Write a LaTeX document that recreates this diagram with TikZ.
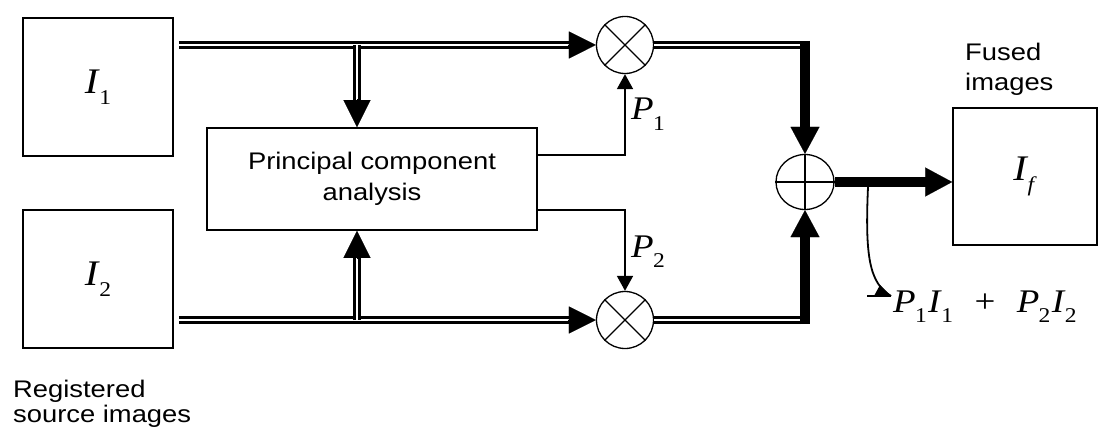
\documentclass[tikz,border=0pt]{standalone}
\usepackage{fontspec}
\setmainfont[FakeStretch=1.12]{Liberation Serif}
\newfontfamily\labelfont[FakeStretch=1.14]{Liberation Sans}
\usetikzlibrary{arrows.meta,shapes.geometric}

% italic symbol with a lowered subscript
\newcommand{\symsub}[2]{\textit{#1}\kern-0.02em\raisebox{-0.32em}{\fontsize{21}{21}\selectfont #2}}

\tikzset{
  blockbox/.style={draw, line width=1.6pt, inner sep=0pt},
  opnode/.style={draw, line width=1.3pt, inner sep=0pt},
  bus/.style={double, double distance=2pt, line width=3pt},
  heavy/.style={line width=9.5pt},
  signal/.style={line width=1.8pt},
  bushead/.style={line width=0.1pt, -{Triangle[length=27pt,width=27pt]}},
  heavyhead/.style={line width=0.1pt, -{Triangle[length=27pt,width=29pt]}},
  sighead/.style={line width=1.8pt, -{Triangle[length=15pt,width=16pt]}},
  symtext/.style={font=\fontsize{36}{38}\selectfont},
  smallsym/.style={font=\fontsize{33}{35}\selectfont, inner sep=0pt},
  plaintext/.style={font=\labelfont\fontsize{24}{25}\selectfont, inner sep=0pt, align=left}
}

\begin{document}
\begin{tikzpicture}[x=1pt, y=-1pt]
\useasboundingbox (0,0) rectangle (1099,430);

% source, analysis and result blocks
\node[blockbox, minimum width=150pt, minimum height=138pt, symtext] (I1) at (98,87) {\symsub{I}{1}};
\node[blockbox, minimum width=150pt, minimum height=138pt, symtext] (I2) at (98,279) {\symsub{I}{2}};
\node[blockbox, minimum width=330pt, minimum height=102pt, align=center,
      font=\labelfont\fontsize{24}{31}\selectfont] (pca) at (372,179) {Principal component\\analysis};
\node[blockbox, minimum width=144pt, minimum height=137pt, symtext] (If) at (1025,176.5) {\symsub{I}{\textit{f}}};

% multipliers and summer
\node[opnode, circle, minimum size=57pt] (m1) at (625,45) {};
\draw[line width=1.1pt] (m1.north west) -- (m1.south east) (m1.north east) -- (m1.south west);
\node[opnode, circle, minimum size=57pt] (m2) at (625,320) {};
\draw[line width=1.1pt] (m2.north west) -- (m2.south east) (m2.north east) -- (m2.south west);
\node[opnode, ellipse, minimum width=58pt, minimum height=55pt] (sum) at (805,182) {};
\draw[line width=1.1pt] (sum.north) -- (sum.south) (sum.west) -- (sum.east);

% helper points
\coordinate (a1) at ([xshift=5pt]I1.east |- m1.center);
\coordinate (a2) at ([xshift=5pt]I2.east |- m2.center);
\coordinate (j1) at (357,45);
\coordinate (j2) at (357,320);
\coordinate (b1) at (j1 |- pca.north);
\coordinate (b2) at (j2 |- pca.south);
\coordinate (c1) at (sum.north |- m1.center);
\coordinate (c2) at (sum.south |- m2.center);
\coordinate (p1) at ([yshift=24pt]pca.east);
\coordinate (p2) at ([yshift=-31pt]pca.east);
\coordinate (fin) at (sum.east -| If.west);

% image buses into the multipliers
\draw[bus] (a1) -- ([xshift=-26pt]m1.west);
\draw[bushead] ([xshift=-28pt]m1.west) -- (m1.west);
\draw[bus] (a2) -- ([xshift=-26pt]m2.west);
\draw[bushead] ([xshift=-28pt]m2.west) -- (m2.west);

% branches into the analysis block
\draw[bus] (j1) -- ([yshift=26pt]b1);
\draw[bushead] ([yshift=28pt]b1) -- (b1);
\draw[bus] (j2) -- ([yshift=-26pt]b2);
\draw[bushead] ([yshift=-28pt]b2) -- (b2);

% weights
\draw[signal] (p1) -- (m1.south |- p1) -- ([yshift=-14pt]m1.south);
\draw[sighead] ([yshift=-16pt]m1.south) -- (m1.south);
\draw[signal] (p2) -- (m2.north |- p2) -- ([yshift=14pt]m2.north);
\draw[sighead] ([yshift=16pt]m2.north) -- (m2.north);
\node[smallsym, anchor=base west] (P1) at (631,120) {\symsub{P}{1}};
\node[smallsym, anchor=base west] (P2) at (631,257) {\symsub{P}{2}};

% weighted images into the summer
\draw[bus] (m1.east) -- (c1);
\draw[heavy] ([yshift=4pt]c1) -- ([yshift=25pt]sum.north);
\draw[heavyhead] ([yshift=27pt]sum.north) -- (sum.north);
\draw[bus] (m2.east) -- (c2);
\draw[heavy] ([yshift=-4pt]c2) -- ([yshift=-25pt]sum.south);
\draw[heavyhead] ([yshift=-27pt]sum.south) -- (sum.south);

% fused output
\draw[heavy] (sum.east) -- ([xshift=-25pt]fin);
\draw[heavyhead] ([xshift=-27pt]fin) -- (fin);

% output formula with its pointer
\coordinate (tap) at (868,187);
\coordinate (tip) at (891,296);
\draw[signal] (tap) .. controls (865,255) and (869,283) .. (tip);
\draw[signal] (867,296) -- (tip);
\fill (tip) -- (880,285) -- (874,296) -- cycle;
\node[smallsym, anchor=base west] (eq) at (893,312)
  {\symsub{P}{1}\kern0.04em\symsub{I}{1}\hspace{0.65em}+\hspace{0.65em}\symsub{P}{2}\kern0.04em\symsub{I}{2}};

% captions
\node[plaintext, anchor=north west] (srccap) at (13,380) {Registered\\source images};
\node[plaintext, anchor=north west, font=\labelfont\fontsize{24}{30}\selectfont] (fusedcap) at (965,43) {Fused\\images};
\end{tikzpicture}
\end{document}
